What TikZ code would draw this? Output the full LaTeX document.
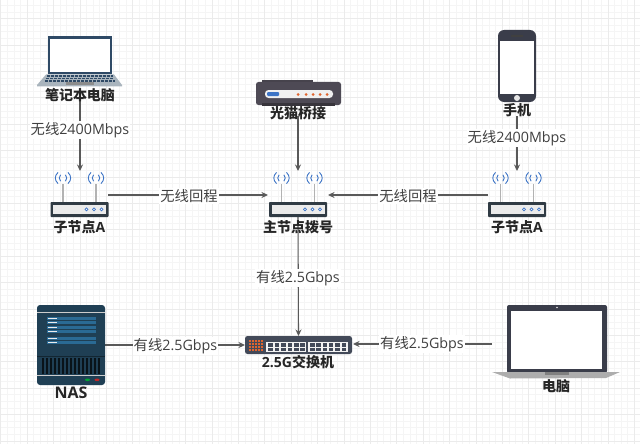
\documentclass[tikz,border=0pt]{standalone}
\usepackage{fontspec}
\setmainfont{Noto Sans CJK SC}
\newfontfamily\lat{Open Sans}
\usetikzlibrary{arrows.meta}
\definecolor{navy}{HTML}{2F4A66}
\definecolor{keyg}{HTML}{A9B4BD}
\definecolor{modem}{HTML}{4E4A55}
\definecolor{rtr}{HTML}{303B44}
\definecolor{wifi}{HTML}{3D74C6}
\definecolor{nasb}{HTML}{1F3F54}
\definecolor{nasl}{HTML}{2A6A94}
\definecolor{swb}{HTML}{434A59}
\definecolor{orng}{HTML}{E0642E}
\definecolor{phone}{HTML}{3A3D4A}
\tikzset{
  x=1pt,y=-1pt,
  box/.style={minimum width=#1,inner sep=0pt,outer sep=0pt},
  devlabel/.style={font=\fontsize{14}{14}\selectfont\bfseries,text=black!85,inner sep=0pt},
  linklabel/.style={font=\fontsize{14.3}{14.3}\selectfont,text=black!75,fill=white,inner sep=1pt},
  link/.style={draw=black!65,line width=1.1pt,-{Stealth[length=6.5pt,width=6pt]}},
  wave/.style={draw=wifi,line width=.9pt},
}
\newcommand{\routerdraw}[1]{% centre x
  \begin{scope}[shift={(#1,0)}]
    \draw[line width=1.2pt,black!30] (-16.5,184) -- (-16.5,202) (16.5,184) -- (16.5,202);
    \foreach \a in {-16.5,16.5}{
      \begin{scope}[shift={(\a,178)}]
        \draw[wave] (-2.4,-3.2) .. controls (-4.2,-1) and (-4.2,1) .. (-2.4,3.2);
        \draw[wave] (2.4,-3.2) .. controls (4.2,-1) and (4.2,1) .. (2.4,3.2);
        \draw[wave] (-5,-5.6) .. controls (-8.6,-2) and (-8.6,2) .. (-5,5.6);
        \draw[wave] (5,-5.6) .. controls (8.6,-2) and (8.6,2) .. (5,5.6);
      \end{scope}
    }
    \fill[rtr,rounded corners=.8pt] (-29,202) rectangle (29,217);
    \fill[black!8] (-26.5,205) rectangle (26.5,213.5);
    \foreach \a in {9,16.5,24}\draw[wifi,line width=.7pt,fill=white] (\a-2,209.3) circle[radius=1.5];
  \end{scope}
}
\begin{document}
\begin{tikzpicture}
\useasboundingbox (0,0) rectangle (640,444);
\fill[white] (0,0) rectangle (640,444);
% grid
\foreach \i in {0,...,97}\draw[black!4,line width=.5pt] (0.6+6.6*\i,0) -- (0.6+6.6*\i,444);
\foreach \i in {0,...,67}\draw[black!4,line width=.5pt] (0,5.3+6.6*\i) -- (640,5.3+6.6*\i);
\foreach \i in {0,...,24}\draw[black!8,line width=.5pt] (0.6+26.4*\i,0) -- (0.6+26.4*\i,444);
\foreach \i in {0,...,16}\draw[black!8,line width=.5pt] (0,18.5+26.4*\i) -- (640,18.5+26.4*\i);

% anchors of the devices
\node[box=57pt,minimum height=15pt] (ra) at (79.5,209.5) {};
\node[box=58pt,minimum height=15pt] (rm) at (298,209.5) {};
\node[box=57pt,minimum height=15pt] (rb) at (517,209.5) {};
\node[box=107pt,minimum height=18pt] (sw) at (298.5,345) {};
\node[box=68pt,minimum height=80pt] (nas) at (71,345) {};
\coordinate (laptopb) at (80,98);
\coordinate (modemb) at (298,116);
\coordinate (phoneb) at (517,116);
\coordinate (ainL) at (268,195);
\coordinate (ainR) at (328,195);
\coordinate (aoutL) at (108,195);
\coordinate (aoutR) at (488,195);
\coordinate (pcout) at (492,344);
\coordinate (swr) at (353,344);

% connectors
\draw[link] (laptopb) -- (80,171);
\draw[link] (modemb) -- (298,171);
\draw[link] (phoneb) -- (517,171);
\draw[link] (aoutL) -- (ainL);
\draw[link] (aoutR) -- (ainR);
\draw[link] (rm.south) -- (sw.north);
\draw[link] (nas.east) -- (sw.west);
\draw[link] (pcout) -- (swr);

% link labels
\node[linklabel] at (80,130) {无线{\lat 2400Mbps}};
\node[linklabel] at (517,138) {无线{\lat 2400Mbps}};
\node[linklabel] at (189,196) {无线回程};
\node[linklabel] at (408,196) {无线回程};
\node[linklabel] at (298,278) {有线{\lat 2.5Gbps}};
\node[linklabel] at (175.5,346) {有线{\lat 2.5Gbps}};
\node[linklabel] at (422,344) {有线{\lat 2.5Gbps}};

% laptop
\fill[navy] (48,36) rectangle (112,74.5);
\fill[white] (49.7,39) rectangle (110.3,72.5);
\fill[keyg] (46,74.5) -- (114,74.5) -- (122,85) -- (122,86.5) -- (37,86.5) -- (37,85) -- cycle;
\foreach \yy/\xa/\xb in {76/47/113,78.5/46/114,81/45/115}{
  \draw[navy,line width=1.7pt,dash pattern=on 3pt off 1pt] (\xa,\yy) -- (\xb,\yy);
}
\fill[black!45] (66,81.8) rectangle (94,84.8);

% modem
\fill[modem!90!black] (262,80) rectangle (313,84);
\fill[modem,rounded corners=2.5pt] (256,82) rectangle (341,105);
\fill[modem!70!black] (262,103) rectangle (335,105.5);
\fill[black!6,rounded corners=3.5pt] (265,90) rectangle (333,98);
\fill[wifi,rounded corners=1pt] (267,92) rectangle (279,96);
\foreach \a in {298,306,313,320,327}\fill[orng] (\a,94.5) circle[radius=1.5];

% phone
\fill[phone,rounded corners=6pt] (498,30) rectangle (536,102);
\fill[white] (500,41) rectangle (534,94);
\fill[black!75,rounded corners=.5pt] (511,35) rectangle (523,37);
\fill[black!10] (517,98) circle[radius=3];

% routers
\routerdraw{79.5}
\routerdraw{298}
\routerdraw{517}

% NAS
\fill[nasb,rounded corners=3pt] (37,305) rectangle (105,385);
\draw[black!20,line width=.8pt] (37,312.5) -- (105,312.5);
\draw[black!20,line width=.9pt] (37,375) -- (105,375);
\foreach \yy/\yb in {317/324,326/333,337/344}{
  \fill[nasl] (47,\yy) rectangle (96,\yy+3.2);
  \fill[nasl] (47,\yy+4) rectangle (96,\yb);
  \fill[black!8] (48,\yy+1) rectangle (57,\yy+2.3);
  \fill[black!8] (48,\yy+5) rectangle (57,\yy+6.3);
}
\draw[nasb!60!black,line width=.4pt] (37,356.5) -- (105,356.5);
\foreach \a in {43,47,...,100}\draw[black!70!nasb,line width=2pt] (\a,358) -- (\a,374);
\fill[green!55!black!80!cyan] (87.5,379.8) ellipse[x radius=2.5,y radius=1.3];
\fill[red!70!black!80!pink] (97,379.8) ellipse[x radius=2.5,y radius=1.3];

% switch
\fill[swb,rounded corners=2.5pt] (245,336) rectangle (352,354);
\foreach \a in {0,1,2,3,4}\foreach \b in {0,1,2,3}\fill[orng] (249+\a*2.9,340+\b*2.9) rectangle ++(1.9,1.9);
\fill[black!5] (266,342) rectangle (306,352);
\fill[black!5] (308,342) rectangle (348,352);
\foreach \a in {268,274.5,281,287.5,294,300,310,316.3,322.6,328.9,335.2,341.5}{
  \fill[swb] (\a,343.3) rectangle ++(4.5,3.2);
  \fill[swb] (\a,347.8) rectangle ++(4.5,3.2);
}

% computer
\fill[phone,rounded corners=2pt] (507,305) rectangle (607,373);
\fill[white] (511,311) rectangle (602,368.5);
\fill[black!10] (557,307.5) circle[radius=.8];
\fill[black!32] (492,372) -- (620,372) -- (606,378) -- (510,378.5) -- cycle;
\fill[black!50] (545,372) rectangle (569,374.5);

% device labels
\node[devlabel] at (80,95) {笔记本电脑};
\node[devlabel] at (298,113) {光猫桥接};
\node[devlabel] at (517,110) {手机};
\node[devlabel] at (79.5,227) {子节点{\lat A}};
\node[devlabel] at (298,227) {主节点拨号};
\node[devlabel] at (517,227) {子节点{\lat A}};
\node[devlabel,font=\fontsize{16}{16}\selectfont\bfseries] at (71,393) {{\lat NAS}};
\node[devlabel] at (298,362) {{\lat 2.5G}交换机};
\node[devlabel] at (556,386) {电脑};
\end{tikzpicture}
\end{document}
